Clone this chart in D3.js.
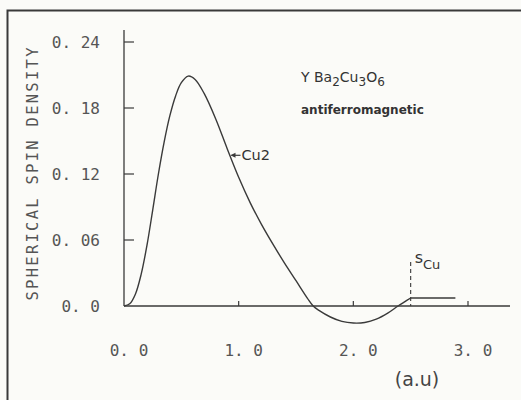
<!DOCTYPE html>
<html>
<head>
<meta charset="utf-8">
<script src="https://d3js.org/d3.v7.min.js"></script>
<style>
  body { margin: 0; background: #fbfbf8; }
  svg { display: block; }
</style>
</head>
<body>
<div id="chart"></div>
<script>
// radius (a.u) and spherical spin density
var radius = [0, 0.05, 0.1, 0.15, 0.2, 0.25, 0.3, 0.35, 0.4, 0.45, 0.5, 0.56, 0.62, 0.7, 0.8, 0.9,
              1.0, 1.1, 1.2, 1.3, 1.4, 1.5, 1.6, 1.65, 1.7, 1.8, 1.9, 2.0, 2.1, 2.2, 2.3, 2.39, 2.45, 2.5];
var density = [0, 0.002, 0.011, 0.029, 0.055, 0.087, 0.12, 0.149, 0.173, 0.191, 0.203, 0.209, 0.206, 0.193, 0.170, 0.143,
               0.117, 0.094, 0.074, 0.056, 0.039, 0.023, 0.007, 0, -0.004, -0.010, -0.014, -0.0155, -0.015, -0.012, -0.0065, 0, 0.004, 0.0073];

// s-like constant part beyond the Cu sphere
var sRadius = [2.5, 2.89];
var sValue = [0.0073, 0.0073];

var yTicks = [0.06, 0.12, 0.18, 0.24];
var yLabels = ["0. 0", "0. 06", "0. 12", "0. 18", "0. 24"];
var yLabelVals = [0, 0.06, 0.12, 0.18, 0.24];
var xTicks = [1, 2, 3];
var xLabels = ["0. 0", "1. 0", "2. 0", "3. 0"];
var xLabelVals = [0, 1, 2, 3];

var W = 521, H = 400;
var ink = "#3a3a3a";

var svg = d3.select("#chart").append("svg")
  .attr("width", W)
  .attr("height", H);

// frame (runs off the right and bottom edges)
svg.append("rect")
  .attr("x", 7.5).attr("y", 10.5)
  .attr("width", 530).attr("height", 400)
  .attr("fill", "none")
  .attr("stroke", ink)
  .attr("stroke-width", 2);

var x = d3.scaleLinear().domain([0, 3]).range([124, 468]);
var y = d3.scaleLinear().domain([0, 0.24]).range([306, 42]);

// y axis line
svg.append("line")
  .attr("x1", x(0)).attr("x2", x(0))
  .attr("y1", 30).attr("y2", y(0))
  .attr("stroke", ink).attr("stroke-width", 1.3);

// x axis line
svg.append("line")
  .attr("x1", x(0)).attr("x2", 510)
  .attr("y1", y(0)).attr("y2", y(0))
  .attr("stroke", ink).attr("stroke-width", 1.3);

// inward ticks on y
svg.append("g").selectAll("line")
  .data(yTicks).enter().append("line")
  .attr("x1", x(0)).attr("x2", x(0) + 10)
  .attr("y1", function(d) { return y(d); })
  .attr("y2", function(d) { return y(d); })
  .attr("stroke", ink).attr("stroke-width", 1.2);

// small upward ticks on x
svg.append("g").selectAll("line")
  .data(xTicks).enter().append("line")
  .attr("x1", function(d) { return x(d); })
  .attr("x2", function(d) { return x(d); })
  .attr("y1", y(0)).attr("y2", y(0) - 5)
  .attr("stroke", ink).attr("stroke-width", 1.2);

// tick labels
svg.append("g").selectAll("text")
  .data(yLabelVals).enter().append("text")
  .attr("x", 100)
  .attr("y", function(d) { return y(d); })
  .attr("dy", "0.36em")
  .attr("text-anchor", "end")
  .attr("font-family", "DejaVu Sans Mono, monospace")
  .attr("font-size", "16px")
  .attr("fill", "#555")
  .text(function(d, i) { return yLabels[i]; });

svg.append("g").selectAll("text")
  .data(xLabelVals).enter().append("text")
  .attr("x", function(d) { return x(d) + 5; })
  .attr("y", 356)
  .attr("text-anchor", "middle")
  .attr("font-family", "DejaVu Sans Mono, monospace")
  .attr("font-size", "16px")
  .attr("fill", "#555")
  .text(function(d, i) { return xLabels[i]; });

// y axis title
svg.append("text")
  .attr("transform", "translate(38,174) rotate(-90)")
  .attr("text-anchor", "middle")
  .attr("font-family", "DejaVu Sans Mono, monospace")
  .attr("font-size", "15.5px")
  .attr("textLength", 253)
  .attr("lengthAdjust", "spacing")
  .attr("fill", "#555")
  .text("SPHERICAL SPIN DENSITY");

// x axis unit
svg.append("text")
  .attr("x", 417).attr("y", 386)
  .attr("text-anchor", "middle")
  .attr("font-family", "DejaVu Sans, sans-serif")
  .attr("font-size", "19px")
  .attr("fill", "#444")
  .text("(a.u)");

// spin density curve
var line = d3.line()
  .x(function(d) { return x(d[0]); })
  .y(function(d) { return y(d[1]); })
  .curve(d3.curveCatmullRom.alpha(0.5));

svg.append("path")
  .datum(d3.zip(radius, density))
  .attr("d", line)
  .attr("fill", "none")
  .attr("stroke", ink)
  .attr("stroke-width", 1.4);

svg.append("path")
  .datum(d3.zip(sRadius, sValue))
  .attr("d", d3.line().x(function(d) { return x(d[0]); }).y(function(d) { return y(d[1]); }))
  .attr("fill", "none")
  .attr("stroke", ink)
  .attr("stroke-width", 1.4);

// dashed sphere boundary
svg.append("line")
  .attr("x1", x(sRadius[0])).attr("x2", x(sRadius[0]))
  .attr("y1", y(0.04)).attr("y2", y(0))
  .attr("stroke", ink).attr("stroke-width", 1.1)
  .attr("stroke-dasharray", "4,3");

// S_Cu label
var sLab = svg.append("text")
  .attr("x", x(sRadius[0]) + 4).attr("y", 263)
  .attr("font-family", "DejaVu Sans, sans-serif")
  .attr("font-size", "16px")
  .attr("fill", "#333");
sLab.append("tspan").text("s");
sLab.append("tspan").attr("dy", 6).attr("font-size", "13px").text("Cu");

// Cu2 label with arrow
var arrowAt = 0.92;
var ax = x(arrowAt), ay = y(0.137);
svg.append("line")
  .attr("x1", ax + 2).attr("x2", ax + 11)
  .attr("y1", ay).attr("y2", ay)
  .attr("stroke", ink).attr("stroke-width", 1.2);
svg.append("path")
  .attr("d", "M" + (ax + 1) + "," + ay + " l5,-2.5 l0,5 z")
  .attr("fill", ink);
svg.append("text")
  .attr("x", ax + 12).attr("y", ay + 5)
  .attr("font-family", "DejaVu Sans, sans-serif")
  .attr("font-size", "14.5px")
  .attr("fill", "#333")
  .text("Cu2");

// compound label
var comp = svg.append("text")
  .attr("x", 301).attr("y", 82)
  .attr("font-family", "DejaVu Sans, sans-serif")
  .attr("font-size", "14px")
  .attr("fill", "#333");
comp.append("tspan").text("Y Ba");
comp.append("tspan").attr("dy", 4).attr("font-size", "12px").text("2");
comp.append("tspan").attr("dy", -4).text("Cu");
comp.append("tspan").attr("dy", 4).attr("font-size", "12px").text("3");
comp.append("tspan").attr("dy", -4).text("O");
comp.append("tspan").attr("dy", 4).attr("font-size", "12px").text("6");

svg.append("text")
  .attr("x", 301).attr("y", 114)
  .attr("font-family", "DejaVu Sans, sans-serif")
  .attr("font-size", "12px")
  .attr("font-weight", "bold")
  .attr("fill", "#333")
  .text("antiferromagnetic");
</script>
</body>
</html>
